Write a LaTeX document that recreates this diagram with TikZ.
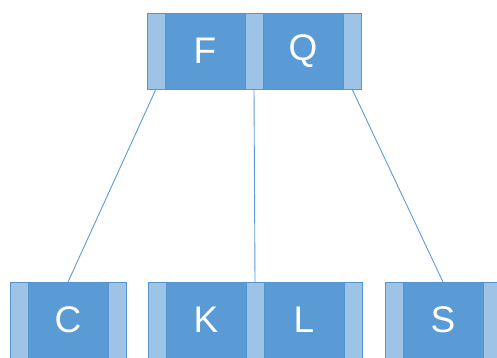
\documentclass[tikz,border=0pt]{standalone}
\usepackage{fontspec}
\setmainfont{Liberation Sans}
\usepackage{tikz}
\usetikzlibrary{positioning}
\definecolor{KeyBlue}{RGB}{91,155,213}
\definecolor{StripBlue}{RGB}{157,195,230}
\definecolor{EdgeBlue}{RGB}{84,148,208}

\begin{document}
\begin{tikzpicture}[x=1pt, y=-1pt,
  strip/.style={draw=EdgeBlue, line width=0.5pt, fill=StripBlue, inner sep=0pt,
                outer sep=0pt, minimum width=18pt, minimum height=76pt},
  keycell/.style={draw=EdgeBlue, line width=0.5pt, fill=KeyBlue, inner sep=0pt,
                  outer sep=0pt, minimum width=80pt, minimum height=76pt,
                  text=white, font=\fontsize{37}{37}\selectfont},
  treeedge/.style={KeyBlue, line width=0.9pt}]
\useasboundingbox (0,0) rectangle (497,358);
\clip (0,0) rectangle (497,358);

% Helper macro: one B-tree node
% #1=name, #2=left x, #3=top y, #4=keys
\newcommand{\keynode}[4]{%
  \coordinate (#1) at (#2,#3);%
  \node[strip, anchor=north west] (#1-s0) at (#1) {};%
  \foreach \k [count=\i] in {#4}{%
    \pgfmathtruncatemacro\j{\i-1}%
    \node[keycell, anchor=north west] (#1-k\i) at (#1-s\j.north east) {\k};%
    \node[strip, anchor=north west] (#1-s\i) at (#1-k\i.north east) {};%
  }%
}

% Root
\keynode{root}{147}{13}{F,Q}

% Leaves
\keynode{lc}{10}{282}{C}
\keynode{lkl}{148}{282}{K,L}
\keynode{ls}{385}{282}{S}

% Child pointers
\draw[treeedge] (root-s0.south) -- (lc-k1.north);
\draw[treeedge] (root-s1.south) -- (lkl-s1.north);
\draw[treeedge] (root-s2.south) -- (ls-k1.north);

\end{tikzpicture}
\end{document}
